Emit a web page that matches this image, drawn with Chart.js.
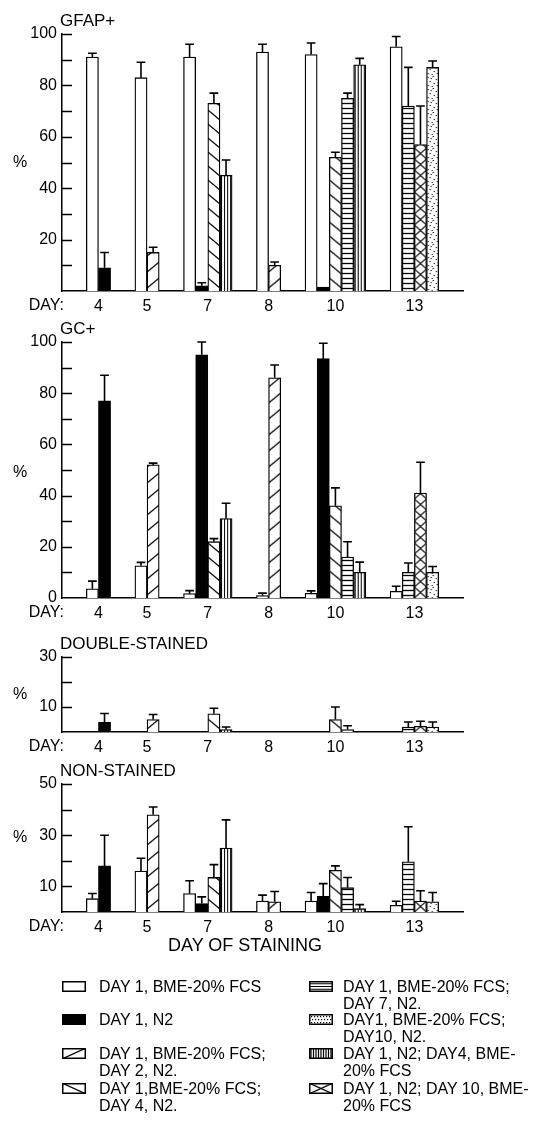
<!DOCTYPE html>
<html>
<head>
<meta charset="utf-8">
<script src="https://cdn.jsdelivr.net/npm/chart.js@4.4.1/dist/chart.umd.min.js"></script>
<style>
  html, body { margin: 0; padding: 0; background: #fff; }
  #page { position: relative; width: 539px; height: 1122px; overflow: hidden; background: #fff;
          font-family: "Liberation Sans", Arial, sans-serif; color: #000; }
  #page canvas.panel { position: absolute; left: 0; top: 0; }
  #xtitle { position: absolute; left: 145px; width: 200px; top: 934px; text-align: center; font-size: 18px; line-height: 22px; }
  .item { position: absolute; font-size: 16px; line-height: 17px; white-space: nowrap; }
</style>
</head>
<body>
<div id="page">
  <canvas id="gfap" class="panel" width="539" height="1122"></canvas>
  <canvas id="gc" class="panel" width="539" height="1122"></canvas>
  <canvas id="dbl" class="panel" width="539" height="1122"></canvas>
  <canvas id="non" class="panel" width="539" height="1122"></canvas>
  <div id="xtitle">DAY OF STAINING</div>
  <div id="legend"></div>
</div>
<script>
// days of staining
var days = ['4', '5', '7', '8', '10', '13'];

// culture conditions, legend order
var seriesLabels = [
  ['DAY 1, BME-20% FCS'],
  ['DAY 1, N2'],
  ['DAY 1, BME-20% FCS;', 'DAY 2, N2.'],
  ['DAY 1,BME-20% FCS;', 'DAY 4, N2.'],
  ['DAY 1, BME-20% FCS;', 'DAY 7, N2.'],
  ['DAY1, BME-20% FCS;', 'DAY10, N2.'],
  ['DAY 1, N2; DAY4, BME-', '20% FCS'],
  ['DAY 1, N2; DAY 10, BME-', '20% FCS']
];
var fills = ['white', 'black', 'up', 'down', 'horiz', 'dots', 'vert', 'cross'];
// order of the bars inside one day group
var barOrder = [0, 1, 2, 3, 4, 7, 5, 6];

// GFAP+ (%), one row per condition, null = not cultured that day
var gfapValues = [
  [91, 83, 91, 93, 92, 95],
  [9, null, 2, null, 1.5, null],
  [null, 15, null, 10, null, null],
  [null, null, 73, null, 52, null],
  [null, null, null, null, 75, 72],
  [null, null, null, null, null, 87],
  [null, null, 45, null, 88, null],
  [null, null, null, null, null, 57]
];
var gfapErrors = [
  [1.5, 6, 5, 3, 4.5, 4],
  [6, null, 1.2, null, 0, null],
  [null, 2, null, 1.3, null, null],
  [null, null, 4, null, 2, null],
  [null, null, null, null, 2, 15],
  [null, null, null, null, null, 2.5],
  [null, null, 6, null, 2.5, null],
  [null, null, null, null, null, 15]
];

// GC+ (%)
var gcValues = [
  [3.6, 12.6, 1.7, 0.9, 1.8, 2.6],
  [77, null, 95, null, 93.5, null],
  [null, 52, null, 86, null, null],
  [null, null, 22, null, 36, null],
  [null, null, null, null, 16, 10],
  [null, null, null, null, null, 10],
  [null, null, 31, null, 10, null],
  [null, null, null, null, null, 41]
];
var gcErrors = [
  [3, 1.3, 1.2, 1, 1, 2],
  [10, null, 5, null, 6, null],
  [null, 0.7, null, 5, null, null],
  [null, null, 1.2, null, 7, null],
  [null, null, null, null, 6, 3.7],
  [null, null, null, null, null, 2.3],
  [null, null, 6, null, 4, null],
  [null, null, null, null, null, 12]
];

// double-stained (%)
var dblValues = [
  [0, 0, 0, 0, 0, 0],
  [4, null, 0, null, 0, null],
  [null, 5, null, 0, null, null],
  [null, null, 7.3, null, 5, null],
  [null, null, null, null, 1, 2],
  [null, null, null, null, null, 2],
  [null, null, 1, null, 0, null],
  [null, null, null, null, null, 2.3]
];
var dblErrors = [
  [0, 0, 0, 0, 0, 0],
  [3.4, null, 0, null, 0, null],
  [null, 2, null, 0, null, null],
  [null, null, 2.2, null, 5, null],
  [null, null, null, null, 1.5, 2],
  [null, null, null, null, null, 2],
  [null, null, 1, null, 0, null],
  [null, null, null, null, null, 2]
];

// non-stained (%)
var nonValues = [
  [5.2, 16, 7.2, 4.3, 4.3, 2.6],
  [18, null, 3.3, null, 6.1, null],
  [null, 38, null, 4, null, null],
  [null, null, 13.5, null, 16.3, null],
  [null, null, null, null, 9.5, 19.6],
  [null, null, null, null, null, 4],
  [null, null, 25, null, 1.3, null],
  [null, null, null, null, null, 4.3]
];
var nonErrors = [
  [2, 5, 5, 2.3, 3.3, 1.6],
  [12, null, 2.6, null, 5, null],
  [null, 3, null, 4, null, null],
  [null, null, 5, null, 1.7, null],
  [null, null, null, null, 4, 13.7],
  [null, null, null, null, null, 3.6],
  [null, null, 11, null, 1.6, null],
  [null, null, null, null, null, 4]
];

var panels = [
  { id: 'gfap', title: 'GFAP+', values: gfapValues, errors: gfapErrors, max: 100, step: 10,
    labels: [20, 40, 60, 80, 100], pct: 50, top: 34, bottom: 291 },
  { id: 'gc', title: 'GC+', values: gcValues, errors: gcErrors, max: 100, step: 10,
    labels: [0, 20, 40, 60, 80, 100], pct: 49, top: 342, bottom: 598 },
  { id: 'dbl', title: 'DOUBLE-STAINED', values: dblValues, errors: dblErrors, max: 30, step: 10,
    labels: [10, 30], pct: 15, top: 657, bottom: 732 },
  { id: 'non', title: 'NON-STAINED', values: nonValues, errors: nonErrors, max: 50, step: 10,
    labels: [10, 30, 50], pct: 29, top: 784, bottom: 912 }
];

var GAP = 2;          // empty slots between day groups
var AXIS_LEFT = 62;
var AXIS_RIGHT = 463;
var X_AXIS_H = 28;
var FONT = '"Liberation Sans", Arial, sans-serif';

Chart.defaults.font.family = FONT;
Chart.defaults.color = '#000';

// slot position of every bar, from which conditions exist on each day
var slotX = seriesLabels.map(function () { return days.map(function () { return null; }); });
var dayCenters = [];
var cursor = GAP;
days.forEach(function (d, i) {
  var present = barOrder.filter(function (s) { return gfapValues[s][i] !== null; });
  present.forEach(function (s, k) { slotX[s][i] = cursor + k + 0.5; });
  dayCenters.push(cursor + present.length / 2);
  cursor += present.length + GAP;
});
var slotCount = cursor;

function makeTile(kind) {
  var c = document.createElement('canvas');
  var w = 12, h = 12;
  if (kind === 'up') h = 16;
  if (kind === 'down') h = 14;
  if (kind === 'horiz') h = 5;
  if (kind === 'vert') { w = 3; h = 2; }
  if (kind === 'cross') h = 11;
  c.width = w; c.height = h;
  var g = c.getContext('2d');
  g.fillStyle = '#fff';
  g.fillRect(0, 0, w, h);
  g.strokeStyle = '#000';
  g.fillStyle = '#000';
  g.lineWidth = 1.3;
  g.beginPath();
  if (kind === 'up') {
    [-h, 0, h].forEach(function (dy) { g.moveTo(0, 13 + dy); g.lineTo(w, 3 + dy); });
  } else if (kind === 'down') {
    [-h, 0, h].forEach(function (dy) { g.moveTo(0, 1 + dy); g.lineTo(w, 11 + dy); });
  } else if (kind === 'horiz') {
    g.moveTo(0, 2.5); g.lineTo(w, 2.5);
  } else if (kind === 'vert') {
    g.lineWidth = 1;
    g.moveTo(1.5, 0); g.lineTo(1.5, h);
  } else if (kind === 'cross') {
    g.lineWidth = 1.1;
    g.moveTo(0, 0); g.lineTo(w, h);
    g.moveTo(0, h); g.lineTo(w, 0);
  } else if (kind === 'dots') {
    [[1, 2], [6, 1], [9, 4], [3, 6], [7, 8], [10, 10], [1, 10], [5, 11], [4, 3], [11, 7]].forEach(function (p) {
      g.fillRect(p[0], p[1], 1.1, 1.1);
    });
  }
  g.stroke();
  return c;
}

function fillFor(ctx, kind) {
  if (kind === 'white') return '#fff';
  if (kind === 'black') return '#000';
  return ctx.createPattern(makeTile(kind), 'repeat');
}

var panelDecor = {
  id: 'panelDecor',
  beforeDatasetsDraw: function (chart) {
    var x = chart.scales.x;
    var slotPx = x.getPixelForValue(1) - x.getPixelForValue(0);
    chart.data.datasets.forEach(function (ds) {
      if (ds.backgroundColor instanceof CanvasPattern) {
        ds.backgroundColor.setTransform(new DOMMatrix()
          .translate(x.getPixelForValue(0), chart.chartArea.bottom)
          .scale(slotPx / 12, 1));
      }
    });
  },
  afterDatasetsDraw: function (chart) {
    var ctx = chart.ctx, y = chart.scales.y;
    ctx.save();
    ctx.strokeStyle = '#000';
    ctx.lineWidth = 1.6;
    chart.data.datasets.forEach(function (ds, di) {
      var meta = chart.getDatasetMeta(di);
      meta.data.forEach(function (bar, j) {
        var pt = ds.data[j];
        if (!pt.err) return;
        var top = y.getPixelForValue(pt.y + pt.err);
        var half = bar.width * 0.36;
        ctx.beginPath();
        ctx.moveTo(bar.x, bar.y);
        ctx.lineTo(bar.x, top);
        ctx.moveTo(bar.x - half, top);
        ctx.lineTo(bar.x + half, top);
        ctx.stroke();
      });
    });
    ctx.restore();
  },
  afterDraw: function (chart, args, opts) {
    var ctx = chart.ctx, area = chart.chartArea, y = chart.scales.y;
    ctx.save();
    ctx.strokeStyle = '#000';
    ctx.fillStyle = '#000';
    ctx.lineWidth = 1.5;
    ctx.beginPath();
    for (var v = opts.step; v <= opts.max; v += opts.step) {
      var py = Math.round(y.getPixelForValue(v)) + 0.5;
      ctx.moveTo(area.left, py);
      ctx.lineTo(area.left + 10, py);
    }
    ctx.stroke();
    ctx.font = '17px ' + FONT;
    ctx.textBaseline = 'alphabetic';
    ctx.textAlign = 'left';
    ctx.fillText(opts.title, area.left - 2, area.top - 8);
    ctx.font = '16px ' + FONT;
    ctx.textAlign = 'center';
    ctx.textBaseline = 'middle';
    ctx.fillText('%', 20, y.getPixelForValue(opts.pct));
    ctx.textAlign = 'right';
    ctx.fillText('DAY:', area.left + 2, area.bottom + 15);
    ctx.restore();
  }
};

panels.forEach(function (p) {
  var canvas = document.getElementById(p.id);
  var ctx = canvas.getContext('2d');
  var datasets = seriesLabels.map(function (lab, s) {
    var pts = [];
    days.forEach(function (d, i) {
      if (p.values[s][i] === null) return;
      pts.push({ x: slotX[s][i], y: p.values[s][i], err: p.errors[s][i] });
    });
    return {
      label: lab.join(' '),
      data: pts,
      backgroundColor: fillFor(ctx, fills[s]),
      borderColor: '#000',
      borderWidth: 1.3,
      grouped: false,
      barPercentage: 1,
      categoryPercentage: 1
    };
  });

  new Chart(ctx, {
    type: 'bar',
    data: { datasets: datasets },
    plugins: [panelDecor],
    options: {
      responsive: false,
      animation: false,
      devicePixelRatio: 1,
      layout: { padding: { top: p.top, bottom: 1122 - p.bottom - X_AXIS_H, left: 0, right: 539 - AXIS_RIGHT } },
      plugins: {
        legend: { display: false },
        tooltip: { enabled: false },
        panelDecor: { title: p.title, step: p.step, max: p.max, pct: p.pct }
      },
      scales: {
        x: {
          type: 'linear',
          offset: false,
          bounds: 'data',
          min: 0,
          max: slotCount,
          grid: { display: false, drawTicks: false, offset: false },
          border: { display: true, color: '#000', width: 1.5 },
          afterFit: function (scale) { scale.height = X_AXIS_H; },
          afterBuildTicks: function (scale) {
            scale.ticks = dayCenters.map(function (c) { return { value: c }; });
          },
          ticks: {
            autoSkip: false,
            maxRotation: 0,
            padding: 6,
            font: { size: 16 },
            callback: function (value, index) { return days[index]; }
          }
        },
        y: {
          min: 0,
          max: p.max,
          grid: { display: false, drawTicks: false },
          border: { display: true, color: '#000', width: 1.5 },
          afterFit: function (scale) { scale.width = AXIS_LEFT; },
          ticks: {
            stepSize: p.step,
            padding: 5,
            font: { size: 16 },
            callback: function (value) { return p.labels.indexOf(value) >= 0 ? String(value) : ''; }
          }
        }
      }
    }
  });
});

// legend, two columns
var legend = document.getElementById('legend');
var rowY = [986, 1019, 1053, 1088];
seriesLabels.forEach(function (lab, s) {
  var col = s < 4 ? 0 : 1;
  var row = s % 4;
  var swX = col === 0 ? 62 : 309;
  var txX = col === 0 ? 99 : 343;
  var sw = document.createElement('canvas');
  sw.width = 24; sw.height = 11;
  sw.style.position = 'absolute';
  sw.style.left = swX + 'px';
  sw.style.top = (rowY[row] - 5) + 'px';
  var g = sw.getContext('2d');
  var kind = fills[s];
  g.fillStyle = kind === 'black' ? '#000' : '#fff';
  g.fillRect(0, 0, 24, 11);
  g.strokeStyle = '#000';
  g.fillStyle = '#000';
  g.lineWidth = 1.2;
  g.beginPath();
  if (kind === 'up' || kind === 'cross') { g.moveTo(0, 11); g.lineTo(24, 0); }
  if (kind === 'down' || kind === 'cross') { g.moveTo(0, 0); g.lineTo(24, 11); }
  if (kind === 'horiz') { for (var yy = 2.75; yy < 11; yy += 2.75) { g.moveTo(0, yy); g.lineTo(24, yy); } }
  if (kind === 'vert') { for (var xx = 2; xx < 24; xx += 2.5) { g.moveTo(xx, 0); g.lineTo(xx, 11); } }
  if (kind === 'dots') {
    for (var dx = 2; dx < 24; dx += 3) { for (var dy = 2; dy < 11; dy += 3) { g.fillRect(dx + (dy % 2), dy, 1.2, 1.2); } }
  }
  g.stroke();
  g.lineWidth = 1.5;
  g.strokeRect(0.75, 0.75, 22.5, 9.5);
  document.getElementById('page').appendChild(sw);

  var t = document.createElement('div');
  t.className = 'item';
  t.style.left = txX + 'px';
  t.style.top = (rowY[row] - 8.5) + 'px';
  t.innerHTML = lab.join('<br>');
  legend.appendChild(t);
});
</script>
</body>
</html>
